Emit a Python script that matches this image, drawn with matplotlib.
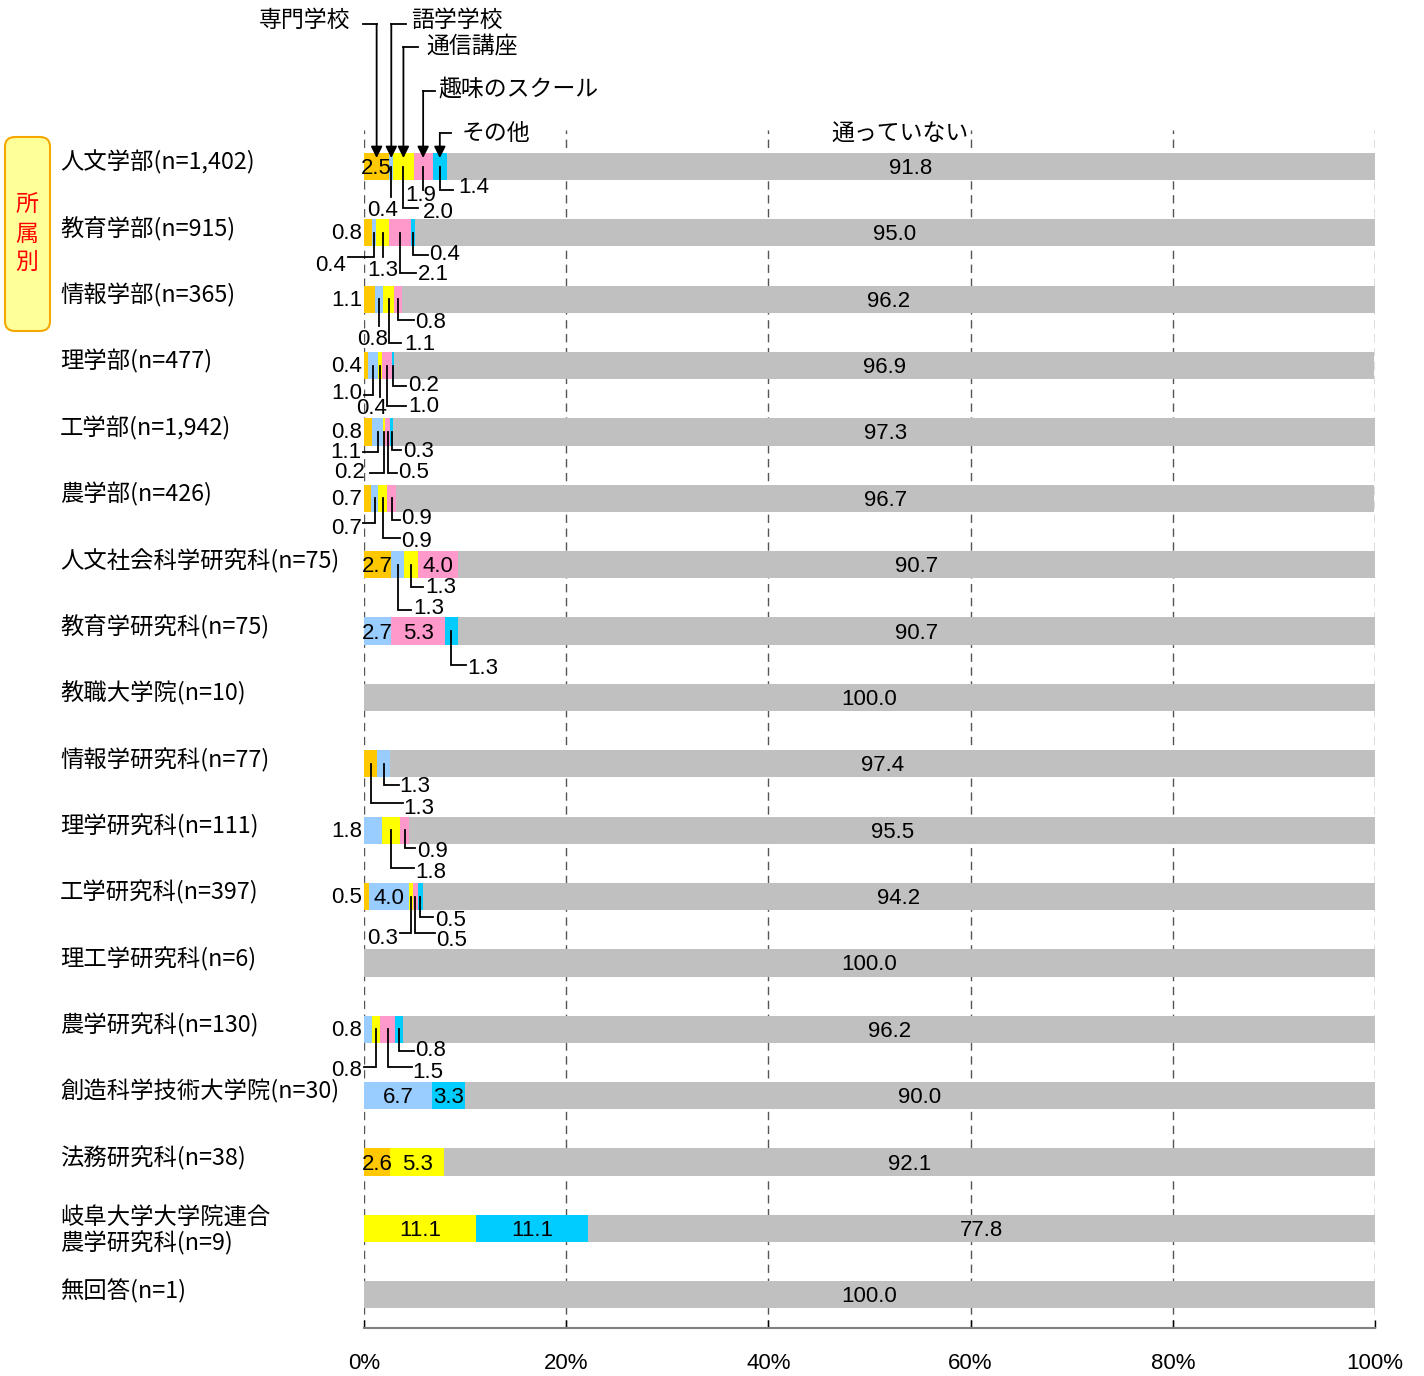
import numpy as np
import matplotlib.pyplot as plt
from matplotlib.patches import FancyBboxPatch

plt.rcParams['font.family'] = ['Noto Sans CJK JP', 'DejaVu Sans']

categories = ["人文学部(n=1,402)", "教育学部(n=915)", "情報学部(n=365)", "理学部(n=477)",
              "工学部(n=1,942)", "農学部(n=426)", "人文社会科学研究科(n=75)", "教育学研究科(n=75)",
              "教職大学院(n=10)", "情報学研究科(n=77)", "理学研究科(n=111)", "工学研究科(n=397)",
              "理工学研究科(n=6)", "農学研究科(n=130)", "創造科学技術大学院(n=30)", "法務研究科(n=38)",
              "岐阜大学大学院連合\n農学研究科(n=9)", "無回答(n=1)"]
series = ["専門学校", "語学学校", "通信講座", "趣味のスクール", "その他", "通っていない"]

senmon = [2.5, 0.8, 1.1, 0.4, 0.8, 0.7, 2.7, 0, 0, 1.3, 0, 0.5, 0, 0, 0, 2.6, 0, 0]
gogaku = [0.4, 0.4, 0.8, 1.0, 1.1, 0.7, 1.3, 2.7, 0, 1.3, 1.8, 4.0, 0, 0.8, 6.7, 0, 0, 0]
tsushin = [2.0, 1.3, 1.1, 0.4, 0.2, 0.9, 1.3, 0, 0, 0, 1.8, 0.3, 0, 0.8, 0, 5.3, 11.1, 0]
shumi = [1.9, 2.1, 0.8, 1.0, 0.5, 0.9, 4.0, 5.3, 0, 0, 0.9, 0.5, 0, 1.5, 0, 0, 0, 0]
sonota = [1.4, 0.4, 0, 0.2, 0.3, 0, 0, 1.3, 0, 0, 0, 0.5, 0, 0.8, 3.3, 0, 11.1, 0]
kayotte_inai = [91.8, 95.0, 96.2, 96.9, 97.3, 96.7, 90.7, 90.7, 100.0, 97.4,
                95.5, 94.2, 100.0, 96.2, 90.0, 92.1, 77.8, 100.0]

colors = ["#FFC800", "#99CCFF", "#FFFF00", "#FF99CC", "#00CCFF", "#C0C0C0"]

# label layout per row: ('in', seg) / ('left', seg) / ('call', seg, ly, lx, tx, ty, ha)  (pixel offsets)
label_layout = {
    0: [('in', 0), ('call', 1, 30, 0, -9, 44, 'center'), ('call', 2, 41, 15, 19, 46, 'left'),
        ('call', 3, 23, 0, -2, 29, 'center'), ('call', 4, 23, 13, 18, 21, 'left')],
    1: [('left', 0), ('call', 1, 24, -26, -28, 33, 'right'), ('call', 2, 24, 0, 0, 38, 'center'),
        ('call', 3, 40, 16, 18, 42, 'left'), ('call', 4, 22, 15, 17, 22, 'left')],
    2: [('left', 0), ('call', 1, 27, 0, -7, 40, 'center'), ('call', 2, 44, 12, 15, 45, 'left'),
        ('call', 3, 21, 16, 17, 23, 'left')],
    3: [('left', 0), ('call', 1, 29, -9, -11, 28, 'right'), ('call', 2, 31, 0, -9, 43, 'center'),
        ('call', 3, 40, 19, 21, 41, 'left'), ('call', 4, 20, 13, 15, 20, 'left')],
    4: [('left', 0), ('call', 1, 20, -15, -16, 21, 'right'), ('call', 2, 41, -14, -19, 41, 'right'),
        ('call', 3, 41, 9, 10, 41, 'left'), ('call', 4, 18, 9, 11, 20, 'left')],
    5: [('left', 0), ('call', 1, 25, -12, -13, 30, 'right'), ('call', 2, 40, 17, 18, 43, 'left'),
        ('call', 3, 22, 8, 9, 20, 'left')],
    6: [('in', 0), ('call', 1, 45, 13, 15, 44, 'left'), ('call', 2, 22, 12, 14, 23, 'left'), ('in', 3)],
    7: [('in', 1), ('in', 3), ('call', 4, 34, 15, 16, 37, 'left')],
    9: [('call', 0, 39, 32, 33, 45, 'left'), ('call', 1, 21, 15, 16, 23, 'left')],
    10: [('left', 1), ('call', 2, 38, 23, 24, 42, 'left'), ('call', 3, 18, 10, 12, 21, 'left')],
    11: [('left', 0), ('in', 1), ('call', 2, 36, -11, -13, 42, 'right'),
         ('call', 3, 36, 20, 21, 44, 'left'), ('call', 4, 20, 13, 15, 24, 'left')],
    13: [('left', 1), ('call', 2, 38, -12, -14, 41, 'right'), ('call', 3, 38, 24, 24, 43, 'left'),
         ('call', 4, 22, 15, 16, 21, 'left')],
    14: [('in', 1), ('in', 4)],
    15: [('in', 0), ('in', 2)],
    16: [('in', 2), ('in', 4)],
}

W, H = 1424, 1376
fig = plt.figure(figsize=(W / 100, H / 100), dpi=100)
ax = fig.add_axes([364 / W, 1 - 1328 / H, 1011 / W, 1198 / H])
ax.set_xlim(0, 100)
ax.set_ylim(17.5, -0.55)

data = np.array([senmon, gogaku, tsushin, shumi, sonota, kayotte_inai])
y = np.arange(len(categories))
lefts = np.vstack([np.zeros(len(categories)), np.cumsum(data, axis=0)[:-1]])

for i in range(len(series)):
    ax.barh(y, data[i], left=lefts[i], height=0.41, color=colors[i], zorder=2, linewidth=0)

ax.set_xticks(range(0, 101, 20))
ax.set_xticklabels([f"{v}%" for v in range(0, 101, 20)], family=['Liberation Sans', 'DejaVu Sans'], fontsize=16)
ax.set_yticks([])
for s in ['left', 'right', 'top']:
    ax.spines[s].set_visible(False)
ax.spines['bottom'].set_color('#808080')
ax.spines['bottom'].set_linewidth(1.5)
ax.tick_params(axis='x', direction='in', length=6, width=1, color='black', pad=18)
ax.grid(axis='x', color='#555555', linestyle=(0, (6, 4)), linewidth=1, zorder=0)
ax.set_axisbelow(True)

fig.canvas.draw()
inv = ax.transData.inverted()


def off(xd, yd, dx, dy):
    px, py = ax.transData.transform((xd, yd))
    return inv.transform((px + dx, py - dy))


def fig_px(xpx, ypx):
    return inv.transform((xpx, H - ypx))


numfont = dict(family=['Liberation Sans', 'DejaVu Sans'], fontsize=16, color='black', zorder=5)
lw = 1.3

for r in range(len(categories)):
    # gray segment label
    gx = lefts[5][r] + data[5][r] / 2
    tx, ty = off(gx, r, 0, 2)
    ax.text(tx, ty, f"{data[5][r]:.1f}", ha='center', va='center', **numfont)
    for spec in label_layout.get(r, []):
        kind, seg = spec[0], spec[1]
        val = data[seg][r]
        cx = lefts[seg][r] + val / 2
        if kind == 'in':
            tx, ty = off(cx, r, 0, 2)
            ax.text(tx, ty, f"{val:.1f}", ha='center', va='center', **numfont)
        elif kind == 'left':
            tx, ty = off(0, r, -2, 1)
            ax.text(tx, ty, f"{val:.1f}", ha='right', va='center', **numfont)
        else:
            _, _, ly, lx, tdx, tdy, ha = spec
            p1 = off(cx, r, 0, ly)
            p2 = off(cx, r, lx, ly)
            ax.plot([cx, p1[0], p2[0]], [r, p1[1], p2[1]], color='black', lw=lw,
                    clip_on=False, zorder=4, solid_joinstyle='miter')
            tx, ty = off(cx, r, tdx, tdy)
            ax.text(tx, ty, f"{val:.1f}", ha=ha, va='center', **numfont)

# category labels
for r, name in enumerate(categories):
    lx, ly = fig_px(60, 0)
    _, ly = off(0, r, 0, -4 if '\n' not in name else 2)
    ax.text(lx, ly, name, ha='left', va='center', fontsize=16.8, clip_on=False, linespacing=1.1)

# header callouts for series
header_line_y = [24, 24, 47, 91, 133]
header_text_y = [20, 20, 47, 90, 134]
header_line_dx = [-14, 15, 15, 12, 11]
header_text_dx = [-26, 20, 23, 15, 22]
for i in range(5):
    cx = lefts[i][0] + data[i][0] / 2
    _, yl = fig_px(0, header_line_y[i])
    _, ytip = fig_px(0, 158)
    ax.annotate('', xy=(cx, ytip), xytext=(cx, yl), annotation_clip=False,
                arrowprops=dict(arrowstyle='-|>', color='black', lw=lw, mutation_scale=17,
                                shrinkA=0, shrinkB=0), zorder=6)
    pe = off(cx, yl, header_line_dx[i], 0)
    ax.plot([cx, pe[0]], [yl, yl], color='black', lw=lw, clip_on=False, zorder=6)
    tp = off(cx, 0, header_text_dx[i], 0)
    _, yt = fig_px(0, header_text_y[i])
    ax.text(tp[0], yt, series[i], ha='right' if header_text_dx[i] < 0 else 'left', va='center',
            fontsize=16.5, clip_on=False)

gx0 = lefts[5][0] + data[5][0] / 2
tp = off(gx0, 0, -11, 0)
_, yt = fig_px(0, 134)
ax.text(tp[0], yt, series[5], ha='center', va='center', fontsize=16.5, clip_on=False)

# left box
box = FancyBboxPatch((5 / W, 1 - 331 / H), 45 / W, 194 / H, transform=fig.transFigure,
                     boxstyle='round,pad=0,rounding_size=0.007', facecolor='#FFFF99',
                     edgecolor='#F5A800', linewidth=1.5)
fig.patches.append(box)
fig.text(27 / W, 1 - 234 / H, "所\n属\n別", ha='center', va='center', color='red',
         fontsize=16.5, linespacing=1.3)

plt.savefig("out.png", dpi=100)
